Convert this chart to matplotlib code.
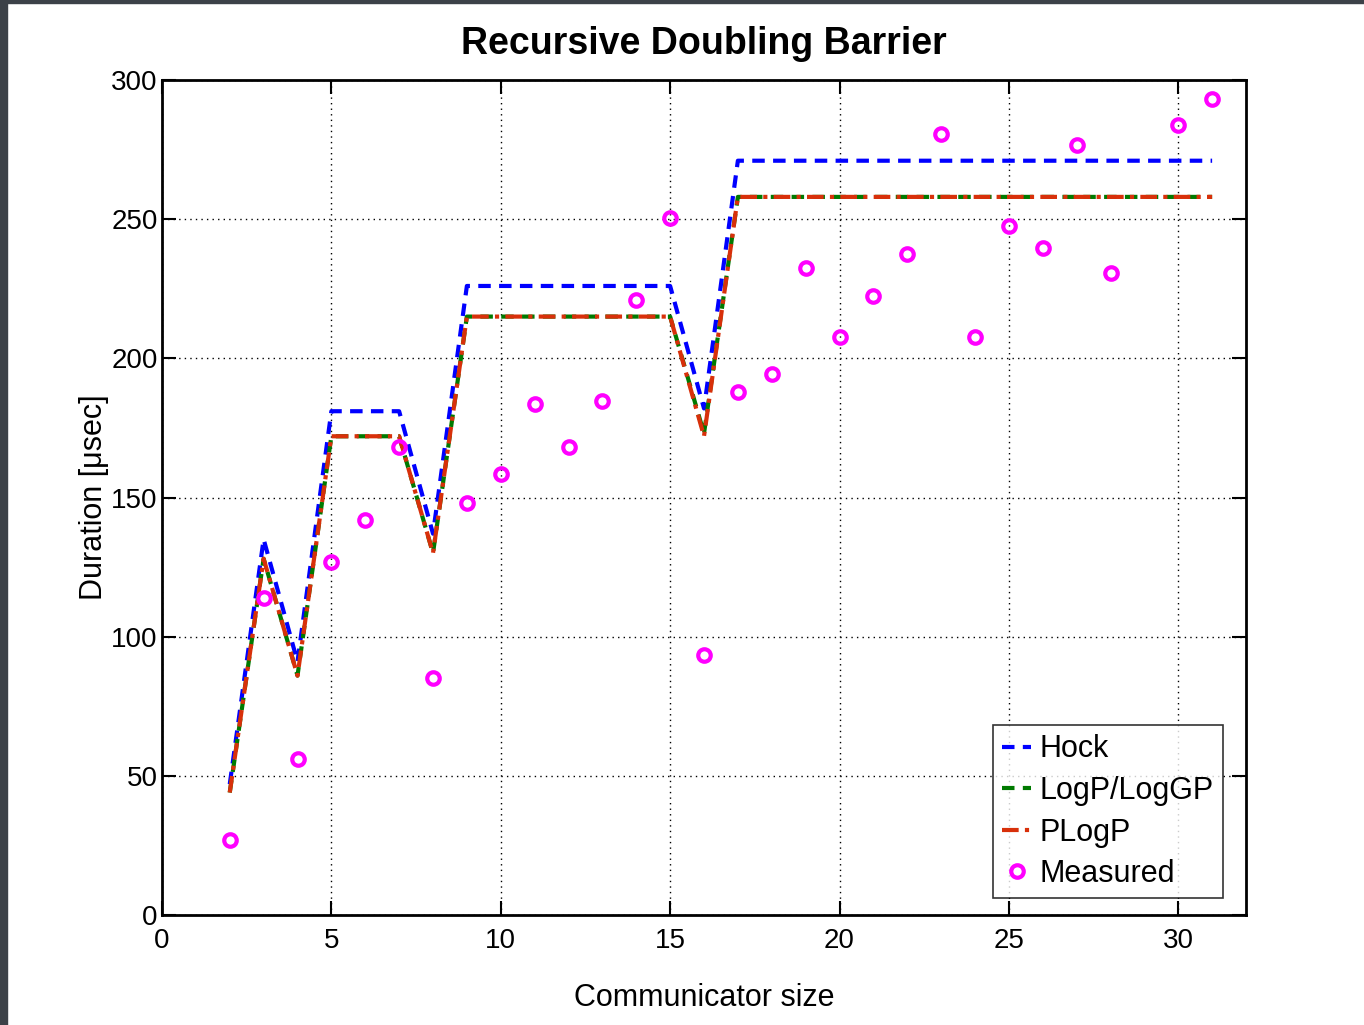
import matplotlib
matplotlib.use("Agg")
import matplotlib.pyplot as plt
from matplotlib.patches import Rectangle

plt.rcParams['font.family'] = ['Liberation Sans', 'DejaVu Sans']

sizes = list(range(2, 32))
hock = [47, 135, 91, 181, 181, 181, 137, 226, 226, 226, 226, 226, 226, 226, 182,
        271, 271, 271, 271, 271, 271, 271, 271, 271, 271, 271, 271, 271, 271, 271]
logp = [44, 128, 86, 172, 172, 172, 130, 215, 215, 215, 215, 215, 215, 215, 173,
        258, 258, 258, 258, 258, 258, 258, 258, 258, 258, 258, 258, 258, 258, 258]
plogp = [44, 128, 86, 172, 172, 172, 130, 215, 215, 215, 215, 215, 215, 215, 172,
         258, 258, 258, 258, 258, 258, 258, 258, 258, 258, 258, 258, 258, 258, 258]

meas_x = [2, 3, 4, 5, 6, 7, 8, 9, 10, 11, 12, 13, 14, 15, 16, 17, 18, 19, 20, 21,
          22, 23, 24, 25, 26, 27, 28, 30, 31]
meas_y = [27, 114, 56, 127, 142, 168, 85, 148, 158.5, 183.5, 168, 184.5, 221, 250.5,
          93.5, 188, 194.5, 232.5, 207.5, 222.5, 237.5, 280.5, 207.5, 247.5, 239.5,
          276.5, 230.5, 284, 293]

fig = plt.figure(figsize=(13.64, 10.25), dpi=100)
ax = fig.add_axes([162/1364, 1 - 915/1025, (1246-162)/1364, (915-80)/1025])

ax.plot(sizes, hock, color='#0000ff', linestyle=(0, (3, 2)), lw=3, label='Hock')
ax.plot(sizes, logp, color='#007a00', linestyle=(0, (3, 2)), lw=3, label='LogP/LogGP')
ax.plot(sizes, plogp, color='#d8300a', linestyle=(0, (4, 1.5, 1, 1.5)), lw=3, label='PLogP')
ax.plot(meas_x, meas_y, linestyle='none', marker='o', markersize=9, markerfacecolor='none',
        markeredgecolor='#ff00ff', markeredgewidth=3, label='Measured')

ax.set_xlim(0, 32)
ax.set_ylim(0, 300)
ax.set_xticks([0, 5, 10, 15, 20, 25, 30])
ax.set_yticks([0, 50, 100, 150, 200, 250, 300])
ax.grid(True, color='black', linestyle=(0, (1, 3)), linewidth=1.0)
ax.tick_params(direction='in', length=10, width=1.5, top=True, right=True, labelsize=20)
ax.tick_params(axis='x', pad=9)
ax.tick_params(axis='y', pad=3)
for s in ax.spines.values():
    s.set_linewidth(2)

ax.set_title('Recursive Doubling Barrier', fontsize=27, fontweight='bold', pad=19)
ax.set_xlabel('Communicator size', fontsize=22, labelpad=21)
ax.set_ylabel('Duration [\u03bcsec]', fontsize=22, labelpad=2)

leg = ax.legend(loc='lower right', bbox_to_anchor=(0.979, 0.02), fontsize=22, frameon=True,
                fancybox=False, edgecolor='black', handlelength=0.95, handletextpad=0.28,
                borderpad=0.3, labelspacing=0.38, borderaxespad=0)
leg.get_frame().set_linewidth(1.2)

fig.patches.append(Rectangle((0, 0), 7/1364, 1, transform=fig.transFigure, color='#3c4148', zorder=10))
fig.patches.append(Rectangle((0, 1 - 3/1025), 1, 3/1025, transform=fig.transFigure, color='#3c4148', zorder=10))

fig.savefig('out.png', dpi=100)
